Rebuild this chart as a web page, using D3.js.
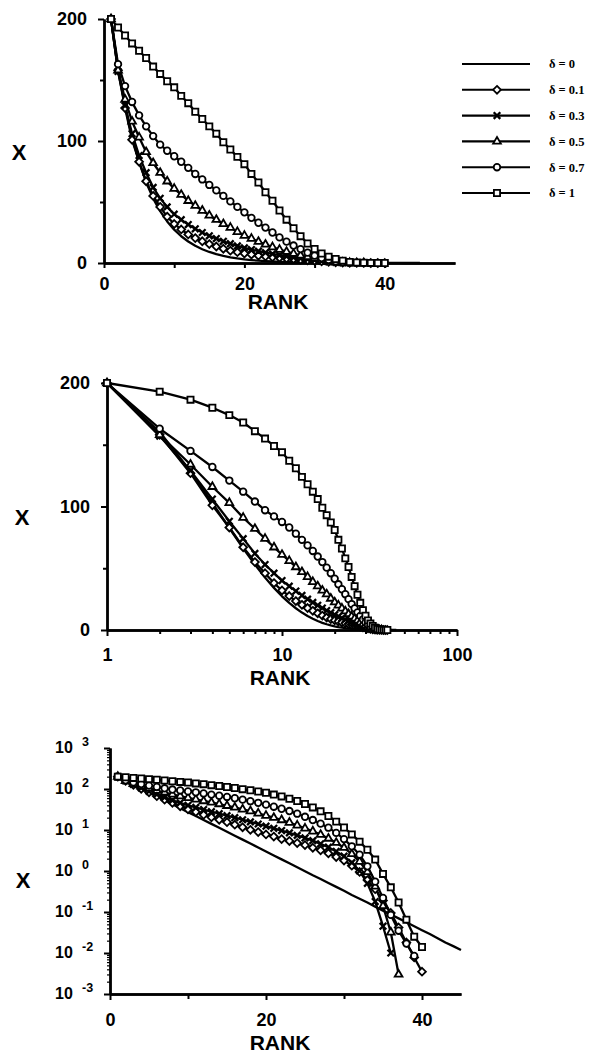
<!DOCTYPE html>
<html>
<head>
<meta charset="utf-8">
<script src="https://cdn.jsdelivr.net/npm/d3@7"></script>
<style>
  html, body { margin: 0; padding: 0; background: #fff; }
  svg { display: block; }
  text { fill: #000; }
</style>
</head>
<body>
<svg id="chart" width="593" height="1055"></svg>
<script>
// Size X against rank for several values of the parameter δ (ranks start at 1)
const seriesLabels = ["δ = 0", "δ = 0.1", "δ = 0.3", "δ = 0.5", "δ = 0.7", "δ = 1"];
const seriesMarkers = ["none", "diamond", "cross", "triangle", "circle", "square"];

const xDelta0 = [200, 160.3, 128.5, 103, 82.6, 66.2, 53, 42.5, 34.1, 27.3, 21.9, 17.6, 14.1, 11.3, 9.05,
  7.26, 5.82, 4.66, 3.74, 3.0, 2.4, 1.92, 1.54, 1.24, 0.99, 0.79, 0.64, 0.51, 0.41, 0.33,
  0.26, 0.21, 0.17, 0.135, 0.108, 0.087, 0.07, 0.056, 0.045, 0.036, 0.029, 0.023, 0.018, 0.0147, 0.0118];
const xDelta01 = [200, 158, 127, 101, 83, 67, 55, 46, 38, 32, 27.5, 23.4, 20.4, 17.8, 15.5,
  13.5, 11.7, 10.1, 8.9, 7.8, 6.9, 6.0, 5.4, 4.8, 4.3, 3.7, 3.2, 2.7, 2.2, 1.8,
  1.35, 0.95, 0.6, 0.36, 0.19, 0.095, 0.042, 0.018, 0.0078, 0.0035];
const xDelta03 = [200, 157, 129, 106, 88, 74, 62, 53, 46, 40, 35.5, 31.5, 28, 25, 22.3,
  20, 17.8, 15.8, 14, 12.4, 11, 9.7, 8.5, 7.4, 6.4, 5.5, 4.6, 3.8, 3.0, 2.3,
  1.6, 1.0, 0.5, 0.18, 0.045, 0.01];
const xDelta05 = [200, 158, 134, 116, 103, 91, 82, 74, 67, 61, 56, 51, 47, 43, 39,
  35.5, 32, 29, 25.5, 22.5, 20, 17.5, 15.2, 13, 11, 9.3, 7.7, 6.2, 4.9, 3.7,
  2.6, 1.7, 0.95, 0.42, 0.14, 0.032, 0.003];
const xDelta07 = [200, 163, 145, 132, 121, 112, 104, 97, 92, 87.5, 83, 78, 73, 68.5, 64,
  59.5, 55, 50.5, 46, 41.5, 37, 33, 29, 25, 21, 17.5, 14.3, 11.4, 8.5, 6.0,
  4.0, 2.5, 1.3, 0.55, 0.22, 0.085, 0.035, 0.017, 0.0085];
const xDelta1 = [200, 193, 186.5, 180, 174, 168, 161, 155, 149, 144, 137, 131, 124, 118, 112,
  106, 99, 93, 87, 81, 73, 66, 58, 51, 43, 35.5, 28.5, 22, 16, 11.5,
  7.8, 5.2, 3.3, 1.9, 0.85, 0.4, 0.17, 0.065, 0.025, 0.014];

const seriesValues = [xDelta0, xDelta01, xDelta03, xDelta05, xDelta07, xDelta1];

// tick labels
const linTicksX = [0, 20, 40];
const linTicksY = [0, 100, 200];
const logTicksX = [1, 10, 100];
const logTicksY = [1e-3, 1e-2, 1e-1, 1, 10, 100, 1000];

const series = seriesValues.map((vals, k) => ({
  label: seriesLabels[k],
  marker: seriesMarkers[k],
  points: vals.map((v, i) => ({ rank: i + 1, x: v }))
}));

const svg = d3.select("#chart");
const SANS = "'Liberation Sans', Arial, Helvetica, sans-serif";
const SERIF = "'Liberation Serif', 'Times New Roman', serif";

// a small square standing on its corner
const diamondPath = (() => {
  const p = d3.path(), r = 3.9;
  p.moveTo(0, -r); p.lineTo(r, 0); p.lineTo(0, r); p.lineTo(-r, 0); p.closePath();
  return p.toString();
})();

const symbolOf = {
  diamond: () => diamondPath,
  cross: d3.symbol().type(d3.symbolX).size(30),
  triangle: d3.symbol().type(d3.symbolTriangle).size(26),
  circle: d3.symbol().type(d3.symbolCircle).size(34),
  square: d3.symbol().type(d3.symbolSquare).size(38)
};

function drawMarker(sel, type) {
  if (type === "none") return;
  sel.append("path")
    .attr("d", symbolOf[type]())
    .attr("fill", type === "cross" ? "none" : "#fff")
    .attr("stroke", "#000")
    .attr("stroke-width", type === "cross" ? 2.3 : 1.8);
}

function styleAxis(g) {
  g.select(".domain").attr("stroke", "#000").attr("stroke-width", 2.4);
  g.selectAll(".tick line").attr("stroke", "#000").attr("stroke-width", 2);
  g.selectAll("text").attr("font-family", SANS).attr("font-weight", "bold").attr("fill", "#000");
}

function drawSeries(g, xs, ys) {
  const line = d3.line().x(d => xs(d.rank)).y(d => ys(d.x));
  series.forEach(s => {
    g.append("path")
      .attr("d", line(s.points))
      .attr("fill", "none")
      .attr("stroke", "#000")
      .attr("stroke-width", 2.3)
      .attr("stroke-linejoin", "round");
  });
  series.forEach(s => {
    if (s.marker === "none") return;
    s.points.forEach(p => {
      const m = g.append("g").attr("transform", `translate(${xs(p.rank)},${ys(p.x)})`);
      drawMarker(m, s.marker);
    });
  });
}

function axisTitles(xCenter, rankBase, xLabelPos) {
  svg.append("text")
    .attr("x", xCenter).attr("y", rankBase)
    .attr("text-anchor", "middle")
    .attr("font-family", SANS).attr("font-weight", "bold").attr("font-size", 21)
    .text("RANK");
  svg.append("text")
    .attr("x", xLabelPos[0]).attr("y", xLabelPos[1])
    .attr("text-anchor", "middle").attr("dy", "0.36em")
    .attr("font-family", SANS).attr("font-weight", "bold").attr("font-size", 22)
    .text("X");
}

// ---------- panel 1: linear rank, linear X ----------
{
  const xs = d3.scaleLinear().domain([0, 50]).range([104, 455]);
  const ys = d3.scaleLinear().domain([0, 200]).range([263, 19]);

  svg.append("g").attr("transform", "translate(0,263)")
    .call(d3.axisBottom(xs).tickValues([10, 30]).tickSize(5).tickFormat("").tickSizeOuter(0))
    .call(styleAxis);
  svg.append("g").attr("transform", "translate(0,263)")
    .call(d3.axisBottom(xs).tickValues(linTicksX).tickSize(5).tickPadding(9).tickSizeOuter(0))
    .call(styleAxis)
    .call(g => g.selectAll("text").attr("font-size", 18));
  svg.append("g").attr("transform", "translate(104,0)")
    .call(d3.axisLeft(ys).tickValues([50, 150]).tickSize(4).tickFormat("").tickSizeOuter(0))
    .call(styleAxis);
  svg.append("g").attr("transform", "translate(104,0)")
    .call(d3.axisLeft(ys).tickValues(linTicksY).tickSize(6).tickPadding(11).tickSizeOuter(0))
    .call(styleAxis)
    .call(g => g.selectAll("text").attr("font-size", 18));

  drawSeries(svg.append("g"), xs, ys);
  axisTitles(278, 309, [19, 152]);

  // legend
  const legend = svg.append("g");
  const rowY = d3.scalePoint().domain(seriesLabels).range([64, 193]);
  series.forEach(s => {
    const y = rowY(s.label);
    legend.append("line")
      .attr("x1", 462).attr("x2", 530).attr("y1", y).attr("y2", y)
      .attr("stroke", "#000").attr("stroke-width", 2.1);
    drawMarker(legend.append("g").attr("transform", `translate(497,${y})`), s.marker);
    legend.append("text")
      .attr("x", 549).attr("y", y).attr("dy", "0.35em")
      .attr("font-family", SERIF).attr("font-weight", "bold").attr("font-size", 12.5)
      .text(s.label);
  });
}

// ---------- panel 2: log rank, linear X ----------
{
  const xs = d3.scaleLog().domain([1, 100]).range([107, 457]);
  const ys = d3.scaleLinear().domain([0, 200]).range([630, 383]);

  const minor = [2, 3, 4, 5, 6, 7, 8, 9, 20, 30, 40, 50, 60, 70, 80, 90];
  svg.append("g").attr("transform", "translate(0,630)")
    .call(d3.axisBottom(xs).tickValues(minor).tickSize(4).tickFormat("").tickSizeOuter(0))
    .call(styleAxis);
  svg.append("g").attr("transform", "translate(0,630)")
    .call(d3.axisBottom(xs).tickValues(logTicksX).tickSize(6).tickPadding(12)
      .tickFormat(d3.format("d")).tickSizeOuter(0))
    .call(styleAxis)
    .call(g => g.selectAll("text").attr("font-size", 18));
  svg.append("g").attr("transform", "translate(107,0)")
    .call(d3.axisLeft(ys).tickValues([50, 150]).tickSize(4).tickFormat("").tickSizeOuter(0))
    .call(styleAxis);
  svg.append("g").attr("transform", "translate(107,0)")
    .call(d3.axisLeft(ys).tickValues(linTicksY).tickSize(6).tickPadding(11).tickSizeOuter(0))
    .call(styleAxis)
    .call(g => g.selectAll("text").attr("font-size", 18));

  drawSeries(svg.append("g"), xs, ys);
  axisTitles(280, 685, [22, 517]);
}

// ---------- panel 3: linear rank, log X ----------
{
  const xs = d3.scaleLinear().domain([0, 45]).range([110, 461]);
  const ys = d3.scaleLog().domain([1e-3, 1e3]).range([994, 748]);

  svg.append("g").attr("transform", "translate(0,994)")
    .call(d3.axisBottom(xs).tickValues([10, 30]).tickSize(5).tickFormat("").tickSizeOuter(0))
    .call(styleAxis);
  svg.append("g").attr("transform", "translate(0,994)")
    .call(d3.axisBottom(xs).tickValues(linTicksX).tickSize(6).tickPadding(13).tickSizeOuter(0))
    .call(styleAxis)
    .call(g => g.selectAll("text").attr("font-size", 18));

  const minorY = ys.ticks().filter(v => !logTicksY.includes(v));
  svg.append("g").attr("transform", "translate(110,0)")
    .call(d3.axisLeft(ys).tickValues(minorY).tickSize(3).tickFormat("").tickSizeOuter(0))
    .call(styleAxis)
    .call(g => g.selectAll(".tick line").attr("stroke-width", 1.2));
  svg.append("g").attr("transform", "translate(110,0)")
    .call(d3.axisLeft(ys).tickValues(logTicksY).tickSize(6).tickFormat("").tickSizeOuter(0))
    .call(styleAxis);

  // labels of the form 10 with a raised exponent
  logTicksY.forEach(v => {
    const t = svg.append("text")
      .attr("x", 55).attr("y", ys(v)).attr("dy", "0.3em")
      .attr("font-family", SANS).attr("font-weight", "bold").attr("font-size", 16);
    t.append("tspan").text("10");
    t.append("tspan")
      .attr("x", 82).attr("dy", -7)
      .attr("font-size", 12.5)
      .text(String(Math.round(Math.log10(v))));
  });

  drawSeries(svg.append("g"), xs, ys);
  axisTitles(280, 1050, [23, 880]);
}
</script>
</body>
</html>
